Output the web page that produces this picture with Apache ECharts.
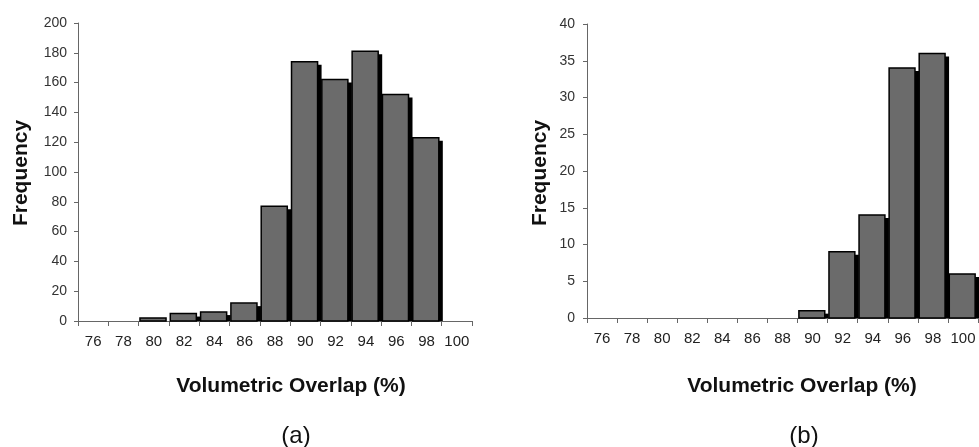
<!DOCTYPE html>
<html>
<head>
<meta charset="utf-8">
<script src="https://cdn.jsdelivr.net/npm/echarts@6/dist/echarts.min.js"></script>
<style>
html,body{margin:0;padding:0;background:#fff;}
#c{width:979px;height:447px;}
</style>
</head>
<body>
<div id="c"></div>
<script>
const categories = ['76','78','80','82','84','86','88','90','92','94','96','98','100'];
const freqA = [0, 0, 2, 5, 6, 12, 77, 174, 162, 181, 152, 123, 0];
const freqB = [0, 0, 0, 0, 0, 0, 0, 1, 9, 14, 34, 36, 6];
const yTicksA = {min: 0, max: 200, interval: 20};
const yTicksB = {min: 0, max: 40, interval: 5};
const xTitle = 'Volumetric Overlap (%)';
const yTitle = 'Frequency';
const panelLabels = ['(a)', '(b)'];

const FONT = '"Liberation Sans", Arial, sans-serif';
const chart = echarts.init(document.getElementById('c'), null, {renderer: 'canvas'});

function renderBar(params, api) {
  const v = api.value(1);
  if (!v) return null;
  const top = api.coord([api.value(0), v]);
  const base = api.coord([api.value(0), 0]);
  const band = api.size([1, 0])[0];
  const x0 = top[0] - band / 2 + band * 0.045;
  const w = band * 0.86;
  const h = base[1] - top[1];
  return {
    type: 'group',
    children: [
      {type: 'rect', shape: {x: x0 + 4, y: top[1] + 3, width: w, height: Math.max(h - 3, 0)}, style: {fill: '#000'}},
      {type: 'rect', shape: {x: x0, y: top[1], width: w, height: h}, style: {fill: '#6b6b6b', stroke: '#000', lineWidth: 1.5}}
    ]
  };
}

function xAxis(gi, margin) {
  return {
    type: 'category', gridIndex: gi, data: categories, boundaryGap: true,
    axisLine: {show: true, lineStyle: {color: '#666', width: 1}},
    axisTick: {show: true, length: 5, inside: false, interval: 0, alignWithLabel: false, lineStyle: {color: '#666'}},
    axisLabel: {interval: 0, margin: margin, fontSize: 15, color: '#222', fontFamily: FONT},
    splitLine: {show: false}
  };
}
function yAxis(gi, t, margin) {
  return {
    type: 'value', gridIndex: gi, min: t.min, max: t.max, interval: t.interval,
    axisLine: {show: true, lineStyle: {color: '#666', width: 1}},
    axisTick: {show: true, length: 4, lineStyle: {color: '#666'}},
    axisLabel: {margin: margin, fontSize: 14, color: '#333', fontFamily: FONT},
    splitLine: {show: false}
  };
}

function txt(x, y, s, size, weight, rot) {
  return {
    type: 'text', x: x, y: y, rotation: rot || 0,
    style: {text: s, fontSize: size, fontWeight: weight, fontFamily: FONT, fill: '#111', align: 'center', verticalAlign: 'middle'}
  };
}

chart.setOption({
  animation: false,
  backgroundColor: '#fff',
  grid: [
    {left: 78, right: 507, top: 23, bottom: 126},
    {left: 587, right: 1, top: 24, bottom: 129}
  ],
  xAxis: [xAxis(0, 13), xAxis(1, 13)],
  yAxis: [yAxis(0, yTicksA, 11), yAxis(1, yTicksB, 12)],
  series: [
    {type: 'custom', xAxisIndex: 0, yAxisIndex: 0, renderItem: renderBar, encode: {x: 0, y: 1},
     data: freqA.map((v, i) => [i, v])},
    {type: 'custom', xAxisIndex: 1, yAxisIndex: 1, renderItem: renderBar, encode: {x: 0, y: 1},
     data: freqB.map((v, i) => [i, v])}
  ],
  graphic: [
    txt(21, 173, yTitle, 21, 'bold', Math.PI / 2),
    txt(540, 173, yTitle, 21, 'bold', Math.PI / 2),
    txt(291, 386, xTitle, 21, 'bold'),
    txt(802, 386, xTitle, 21, 'bold'),
    txt(296, 436, panelLabels[0], 24, 'normal'),
    txt(804, 436, panelLabels[1], 24, 'normal')
  ]
});
</script>
</body>
</html>
